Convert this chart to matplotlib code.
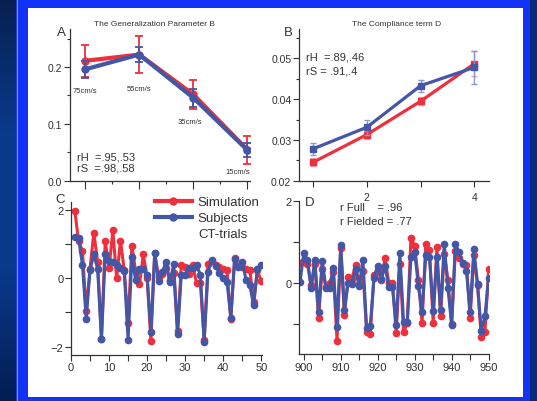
import matplotlib
matplotlib.use("Agg")
import matplotlib.pyplot as plt
import numpy as np
from matplotlib.lines import Line2D
from matplotlib.patches import Rectangle
from matplotlib.ticker import MultipleLocator, FixedLocator

plt.rcParams["font.family"] = ["Liberation Sans", "DejaVu Sans"]

# --- panel A: generalization parameter B per speed ---
speed_x = [1, 2, 3, 4]
speed_labels = ["75cm/s", "55cm/s", "35cm/s", "15cm/s"]
gen_sim = [0.211, 0.222, 0.152, 0.0545]
gen_sim_err = [0.028, 0.033, 0.025, 0.0245]
gen_subj = [0.196, 0.222, 0.146, 0.054]
gen_subj_err = [0.015, 0.013, 0.016, 0.013]

# --- panel B: compliance term D ---
comp_x = [1, 2, 3, 4]
comp_sim = [0.0245, 0.0313, 0.0395, 0.0487]
comp_sim_err = [0.001, 0.001, 0.001, 0.003]
comp_subj = [0.0278, 0.0331, 0.0433, 0.0478]
comp_subj_err = [0.0015, 0.0018, 0.0015, 0.004]

# --- panel C: CT trials 1..50 ---
ct_trial = list(range(1, 51))
ct_sim = [1.97, 1.08, 0.80, -0.97, 0.28, 1.33, 0.48, -1.78, 1.09, 0.30,
          1.40, 0.00, 1.10, 0.23, -1.30, 0.95, 0.20, -0.18, 0.70, 0.02,
          -1.84, 0.74, 0.05, 0.12, 0.30, -0.05, 0.15, -1.53, 0.38, 0.33,
          0.14, 0.38, -0.14, -0.13, -1.80, 0.43, 0.52, 0.38, 0.33, 0.28,
          0.23, -1.20, 0.59, 0.35, 0.33, 0.28, 0.25, -0.70, 0.23, -0.09]
ct_subj = [1.20, 1.17, 0.40, -1.18, 0.25, 0.70, 0.28, -1.78, 0.72, 0.52,
           0.48, 0.38, 0.31, 0.21, -1.80, 0.62, -0.06, 0.28, 0.28, 0.09,
           -1.58, 0.74, -0.09, 0.18, 0.48, -0.11, 0.41, -1.63, 0.11, 0.11,
           0.31, 0.30, 0.38, 0.10, -1.86, 0.18, 0.54, 0.36, 0.15, 0.00,
           -0.10, -1.15, 0.55, 0.33, 0.48, -0.04, -0.20, -0.79, 0.28, 0.40]

# --- panel D: trials 899..950 ---
late_trial = list(range(899, 951))
late_sim = [0.50, 0.55, 0.47, -0.06, 0.47, -0.86, 0.35, -0.10, 0.00, 0.27,
            -1.42, 0.85, -0.78, 0.15, 0.10, 0.43, -0.03, 0.30, -1.20, -1.24,
            0.19, 0.31, 0.08, 0.60, 0.00, 0.00, -1.23, 0.47, -1.20, -0.98,
            1.11, 0.90, 0.08, -0.98, 0.95, 0.80, -0.98, 0.87, -0.82, 0.70,
            0.07, -1.00, 0.78, 0.60, 0.47, 0.43, -0.87, 0.68, -0.06, -1.32,
            -1.20, 0.33]
late_subj = [0.02, 0.73, 0.57, -0.13, 0.56, -0.72, 0.55, -0.13, -0.13, 0.37,
             -1.08, 0.94, -0.67, 0.00, -0.02, 0.33, -0.08, 0.57, -1.10, -1.05,
             0.12, 0.42, 0.10, 0.42, -0.11, -0.11, -1.02, 0.73, -0.95, -0.95,
             0.64, 0.77, -0.07, -0.70, 0.68, 0.63, -0.68, 0.63, -0.66, 0.95,
             -0.12, -1.03, 0.95, 0.76, 0.49, 0.30, -0.71, 0.82, -0.02, -1.18,
             -0.81, 0.12]

W, H = 537, 402
RED = "#ee2f3c"
BLUE = "#4456a6"
TXT = "#333333"


def fpos(x, y):
    return x / W, 1 - y / H


def box(left, top, right, bottom):
    return [left / W, 1 - bottom / H, (right - left) / W, (bottom - top) / H]


def style(ax, labelsize=7.5):
    for side in ("top", "right"):
        ax.spines[side].set_visible(False)
    for side in ("left", "bottom"):
        ax.spines[side].set_color(TXT)
        ax.spines[side].set_linewidth(0.9)
    ax.set_facecolor("none")
    ax.tick_params(which="major", direction="out", length=4, width=0.8,
                   colors=TXT, labelsize=labelsize, pad=1.5)
    ax.tick_params(which="minor", direction="out", length=2.5, width=0.8, colors=TXT)


fig = plt.figure(figsize=(W / 100, H / 100), dpi=100, facecolor="#1233f5")

# slide frame: dark strip on the left, white card in the middle
bg = fig.add_axes([0, 0, 16 / W, 1], zorder=-20)
grad = np.linspace(0, 1, 256)[:, None]
bg.imshow(grad, aspect="auto", cmap=matplotlib.colors.LinearSegmentedColormap.from_list(
    "strip", ["#062050", "#0a3a8c", "#0a3a8c", "#031d52"]), extent=[0, 1, 0, 1])
bg.axis("off")
fig.add_artist(Line2D([16.5 / W] * 2, [0, 1], color="#8c9cc8", lw=0.8, zorder=-10))
fig.add_artist(Rectangle((530 / W, 0), 7 / W, 1, color="#0b2a78", lw=0, zorder=-10))
fig.add_artist(Rectangle((28 / W, 4 / H), 495 / W, 389 / H, color="white", lw=0, zorder=-10))

# panel A
axA = fig.add_axes(box(70, 30, 250, 181.7))
axA.errorbar(speed_x, gen_sim, yerr=gen_sim_err, color=RED, lw=3, marker="o", ms=5,
             elinewidth=1.3, capsize=3, capthick=1.3, zorder=2)
axA.errorbar(speed_x, gen_subj, yerr=gen_subj_err, color=BLUE, lw=3, marker="o", ms=5,
             elinewidth=1.3, capsize=3, capthick=1.3, zorder=3)
axA.set_xlim(0.72, 4.05)
axA.set_ylim(0, 0.267)
axA.xaxis.set_major_locator(FixedLocator(speed_x))
axA.xaxis.set_minor_locator(FixedLocator([1.5, 2.5, 3.5]))
axA.set_xticklabels([])
axA.set_yticks([0, 0.1, 0.2])
axA.set_yticklabels(["0.0", "0.1", "0.2"])
axA.yaxis.set_minor_locator(MultipleLocator(0.05))
style(axA)
axA.tick_params(axis="x", which="major", length=6)
label_pos = [(1.0, 0.159), (2.0, 0.163), (2.94, 0.105), (3.83, 0.0166)]
for (lx, ly), lab in zip(label_pos, speed_labels):
    axA.text(lx, ly, lab, fontsize=5.5, color=TXT, ha="center", va="center")
fig.text(*fpos(155, 24), "The Generalization Parameter B", fontsize=6, color=TXT,
         ha="center", va="center")
fig.text(*fpos(61, 33), "A", fontsize=9.5, color=TXT, ha="center", va="center")
fig.text(*fpos(77, 157), "rH  =.95,.53", fontsize=8, color=TXT, va="center")
fig.text(*fpos(77, 169), "rS  =.98,.58", fontsize=8, color=TXT, va="center")

# panel B
axB = fig.add_axes(box(299, 30, 489, 181.7))
axB.errorbar(comp_x, comp_sim, yerr=comp_sim_err, color=RED, lw=2.3, marker="s", ms=4,
             ecolor="#f4a0a6", elinewidth=1, capsize=2.5, capthick=1, zorder=2)
axB.errorbar(comp_x, comp_subj, yerr=comp_subj_err, color=BLUE, lw=2.3, marker="s", ms=4,
             ecolor="#8c98cc", elinewidth=1, capsize=2.5, capthick=1, zorder=3)
axB.set_xlim(0.74, 4.27)
axB.set_ylim(0.02, 0.0572)
axB.set_xticks(comp_x)
axB.set_xticklabels(["", "2", "", "4"])
axB.set_yticks([0.02, 0.03, 0.04, 0.05])
axB.set_yticklabels(["0.02", "0.03", "0.04", "0.05"])
axB.yaxis.set_minor_locator(MultipleLocator(0.005))
style(axB)
axB.tick_params(axis="x", pad=4)
fig.text(*fpos(397, 25), "The Compliance term D", fontsize=6, color=TXT,
         ha="center", va="center")
fig.text(*fpos(288, 33), "B", fontsize=9.5, color=TXT, ha="center", va="center")
fig.text(*fpos(306, 58), "rH  =.89,.46", fontsize=8, color=TXT, va="center")
fig.text(*fpos(306, 72), "rS = .91,.4", fontsize=8, color=TXT, va="center")

# panel C
axC = fig.add_axes(box(71, 203, 262, 355.7))
axC.plot(ct_trial, ct_sim, color=RED, lw=2.2, marker="o", ms=4.5)
axC.plot(ct_trial, ct_subj, color=BLUE, lw=2.2, marker="o", ms=4.5)
axC.set_xlim(0, 50.2)
axC.set_ylim(-2.234, 2.231)
axC.xaxis.set_major_locator(MultipleLocator(10))
axC.xaxis.set_minor_locator(MultipleLocator(5))
axC.set_yticks([-2, 0, 2])
axC.yaxis.set_minor_locator(MultipleLocator(1))
style(axC, labelsize=8)
axC.tick_params(which="minor", length=4)
fig.text(*fpos(60, 200), "C", fontsize=9.5, color=TXT, ha="center", va="center")
handles = [Line2D([], [], color=RED, lw=3, marker="o", ms=5),
           Line2D([], [], color=BLUE, lw=3, marker="o", ms=5),
           Line2D([], [], color="none")]
fig.legend(handles, ["Simulation", "Subjects", "CT-trials"], loc="upper left",
           bbox_to_anchor=fpos(155, 197), frameon=False, fontsize=9.5,
           handlelength=2.8, handletextpad=0.45, labelspacing=0.28,
           borderpad=0, borderaxespad=0, labelcolor=TXT)

# panel D
axD = fig.add_axes(box(299.3, 202.3, 489, 355))
axD.plot(late_trial, late_sim, color=RED, lw=2.2, marker="o", ms=4.5)
axD.plot(late_trial, late_subj, color=BLUE, lw=2.2, marker="o", ms=4.5)
axD.set_xlim(898.8, 950.1)
axD.set_ylim(-1.74, 2.0)
axD.xaxis.set_major_locator(MultipleLocator(10))
axD.xaxis.set_minor_locator(MultipleLocator(5))
axD.set_yticks([0, 2])
axD.yaxis.set_minor_locator(FixedLocator([-1, 1]))
style(axD, labelsize=8)
axD.tick_params(which="minor", length=4)
fig.text(*fpos(310, 203), "D", fontsize=9.5, color=TXT, ha="center", va="center")
fig.text(*fpos(340, 208), "r Full    = .96", fontsize=8, color=TXT, va="center")
fig.text(*fpos(340, 222), "r Fielded = .77", fontsize=8, color=TXT, va="center")

fig.savefig("out.png", dpi=100, facecolor=fig.get_facecolor())
